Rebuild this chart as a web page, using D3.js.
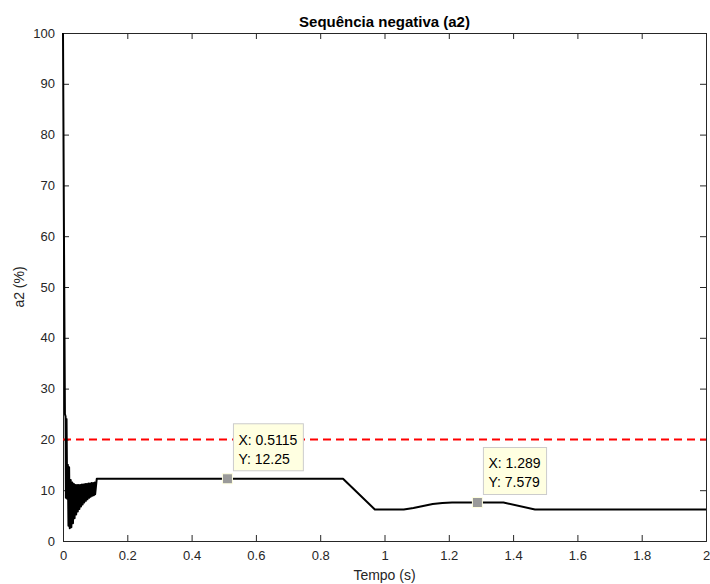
<!DOCTYPE html>
<html>
<head>
<meta charset="utf-8">
<script src="https://cdn.jsdelivr.net/npm/d3@7"></script>
<style>
  body { margin: 0; background: #fff; }
  text { font-family: "Liberation Sans", Arial, Helvetica, sans-serif; }
</style>
</head>
<body>
<div id="chart"></div>
<script>
// time (s) and a2 (%)
const tempo = [0, 0.003, 0.006, 0.008, 0.009, 0.011, 0.013, 0.015, 0.017, 0.019,
  0.021, 0.024, 0.026, 0.029, 0.031, 0.034, 0.036, 0.039, 0.041, 0.044,
  0.046, 0.049, 0.051, 0.054, 0.056, 0.059, 0.061, 0.064, 0.066, 0.069,
  0.071, 0.074, 0.076, 0.079, 0.081, 0.084, 0.086, 0.089, 0.091, 0.094,
  0.096, 0.099, 0.100, 0.105, 0.5115, 0.871, 0.970, 1.06, 1.09, 1.12,
  1.15, 1.18, 1.21, 1.289, 1.37, 1.468, 2];
const a2 = [100, 60, 25, 24.5, 8.5, 24, 8.3, 15, 3, 14.5,
  2.5, 12, 2.7, 11.5, 3.5, 11.2, 4.5, 11, 5.2, 11,
  5.8, 11, 6.3, 11, 6.8, 11.1, 7.2, 11.1, 7.6, 11.2,
  7.9, 11.2, 8.2, 11.3, 8.5, 11.3, 8.7, 11.4, 8.9, 11.4,
  9.0, 11.5, 9.2, 12.25, 12.25, 12.25, 6.2, 6.2, 6.5, 6.9,
  7.3, 7.5, 7.58, 7.579, 7.58, 6.2, 6.2];
const limite = 20;
const xTicks = [0, 0.2, 0.4, 0.6, 0.8, 1, 1.2, 1.4, 1.6, 1.8, 2];
const yTicks = [0, 10, 20, 30, 40, 50, 60, 70, 80, 90, 100];
const tips = [{x: 0.5115, y: 12.25, lx: "X: 0.5115", ly: "Y: 12.25"},
              {x: 1.289, y: 7.579, lx: "X: 1.289", ly: "Y: 7.579"}];

const width = 710, height = 584;
const margin = {top: 33, right: 4, bottom: 43, left: 63};

const svg = d3.select("#chart").append("svg")
  .attr("width", width).attr("height", height);

const x = d3.scaleLinear().domain([0, 2]).range([margin.left, width - margin.right]);
const y = d3.scaleLinear().domain([0, 100]).range([height - margin.bottom, margin.top]);

const axisColor = "#262626";

// axes (ticks inward, box)
const gx = svg.append("g").attr("transform", `translate(0,${y(0)})`)
  .call(d3.axisBottom(x).tickValues(xTicks).tickSize(-6).tickPadding(10).tickFormat(d3.format("")));
const gy = svg.append("g").attr("transform", `translate(${x(0)},0)`)
  .call(d3.axisLeft(y).tickValues(yTicks).tickSize(-6).tickPadding(8));
const gxt = svg.append("g").attr("transform", `translate(0,${y(100)})`)
  .call(d3.axisTop(x).tickValues(xTicks).tickSize(-6).tickFormat(""));
const gyr = svg.append("g").attr("transform", `translate(${x(2)},0)`)
  .call(d3.axisRight(y).tickValues(yTicks).tickSize(-6).tickFormat(""));
[gx, gy, gxt, gyr].forEach(g => {
  g.select(".domain").attr("stroke", axisColor).attr("stroke-width", 1);
  g.selectAll(".tick line").attr("stroke", axisColor);
  g.selectAll(".tick text").attr("fill", axisColor)
    .style("font-size", "13px").style("font-family", '"Liberation Sans", Arial, sans-serif');
});

// limit line
svg.append("line")
  .attr("x1", x(0)).attr("x2", x(2))
  .attr("y1", y(limite)).attr("y2", y(limite))
  .attr("stroke", "#ff0000").attr("stroke-width", 2)
  .attr("stroke-dasharray", "8,5");

// signal
const pts = tempo.map((t, i) => [t, a2[i]]);
svg.append("path")
  .datum(pts)
  .attr("fill", "none").attr("stroke", "#000").attr("stroke-width", 2)
  .attr("stroke-linejoin", "round")
  .attr("d", d3.line().x(d => x(d[0])).y(d => y(d[1])));

// data tips
tips.forEach(d => {
  const px = x(d.x), py = y(d.y);
  const g = svg.append("g");
  const box = g.append("rect")
    .attr("x", px + 6).attr("y", py - 55).attr("height", 47)
    .attr("fill", "#ffffe1").attr("stroke", "#cccccc").attr("stroke-width", 1);
  const t1 = g.append("text").attr("x", px + 11).attr("y", py - 34)
    .style("font-size", "14px").attr("fill", "#000").text(d.lx);
  const t2 = g.append("text").attr("x", px + 11).attr("y", py - 15)
    .style("font-size", "14px").attr("fill", "#000").text(d.ly);
  const w = Math.max(t1.node().getComputedTextLength(), t2.node().getComputedTextLength());
  box.attr("width", w + 11);
  g.append("rect")
    .attr("x", px - 5).attr("y", py - 5).attr("width", 10).attr("height", 10)
    .attr("fill", "#9a9a9a").attr("stroke", "#ffffe1").attr("stroke-width", 1);
});

// title and labels
svg.append("text")
  .attr("x", (x(0) + x(2)) / 2).attr("y", 27)
  .attr("text-anchor", "middle")
  .style("font-size", "15px").style("font-weight", "bold").attr("fill", "#000")
  .text("Sequência negativa (a2)");
svg.append("text")
  .attr("x", (x(0) + x(2)) / 2).attr("y", 580)
  .attr("text-anchor", "middle")
  .style("font-size", "14px").attr("fill", axisColor)
  .text("Tempo (s)");
svg.append("text")
  .attr("transform", `translate(24,${(y(0) + y(100)) / 2}) rotate(-90)`)
  .attr("text-anchor", "middle")
  .style("font-size", "14px").attr("fill", axisColor)
  .text("a2 (%)");
</script>
</body>
</html>
